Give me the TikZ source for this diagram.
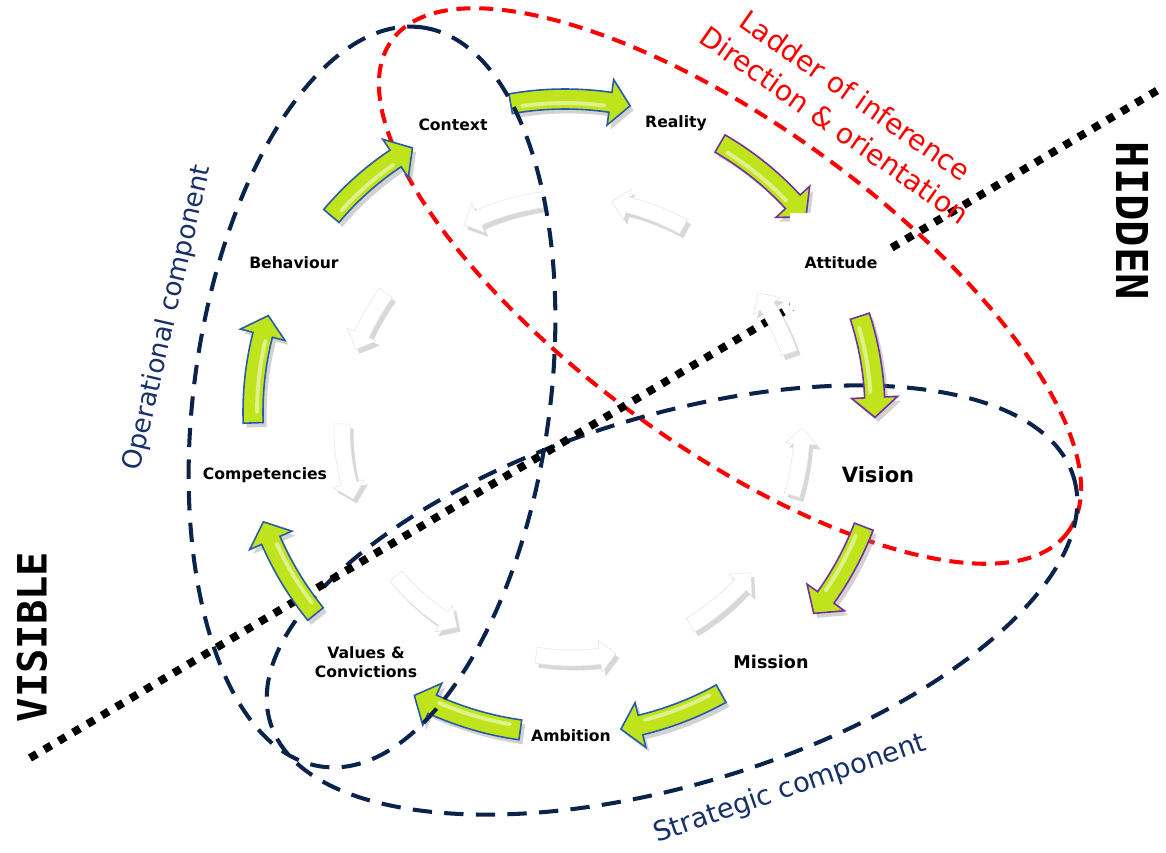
\documentclass[tikz,border=0pt]{standalone}
\usepackage{fontspec}
\setmainfont{DejaVu Sans}
\newfontfamily\monofam{DejaVu Sans Mono}
\usetikzlibrary{shadows}
\definecolor{navy}{RGB}{10,35,75}
\definecolor{navytxt}{RGB}{22,48,105}
\definecolor{lgreen}{RGB}{192,228,28}
\definecolor{oblue}{RGB}{40,90,170}
\definecolor{opurple}{RGB}{112,48,160}

% curved block arrow: style, cx, cy, r, start, end, shaft w, head w, head len (screen angles)
\newcommand\arrowshape[9]{%
  \pgfmathsetmacro\caS{sign((#6)-(#5))}%
  \pgfmathsetmacro\caM{(#6)-\caS*(#9)/(#4)*180/pi}%
  \pgfmathsetmacro\caRo{(#4)+(#7)/2}%
  \pgfmathsetmacro\caRi{(#4)-(#7)/2}%
  \pgfmathsetmacro\caHo{(#4)+(#8)/2}%
  \pgfmathsetmacro\caHi{(#4)-(#8)/2}%
  \path[#1,shift={(#2,#3)}] (#5:\caRo) arc[start angle=#5,end angle=\caM,radius=\caRo]
    -- (\caM:\caHo) -- (#6:#4) -- (\caM:\caHi) -- (\caM:\caRi)
    arc[start angle=\caM,end angle=#5,radius=\caRi] -- cycle;%
}
\newcommand\garrow[4]{%
  \arrowshape{garrowst,draw=#1}{565}{412}{#4}{#2}{#3}{20}{46}{20}%
  \pgfmathsetmacro\caHs{(#2)+\caS*2}%
  \pgfmathsetmacro\caHe{\caM-\caS*1}%
  \pgfmathsetmacro\caHr{(#4)-4}%
  \draw[white,opacity=.5,line width=2.2pt,line cap=round,shift={(565,412)}]
    (\caHs:\caHr) arc[start angle=\caHs,end angle=\caHe,radius=\caHr];%
}
\newcommand\warrow[2]{%
  \arrowshape{warrowst}{572}{428}{230}{#1}{#2}{16}{32}{16}%
}

\begin{document}
\begin{tikzpicture}[x=0.02cm,y=-0.02cm,
  garrowst/.style={fill=lgreen,line width=0.9pt,
    drop shadow={shadow xshift=2pt,shadow yshift=-2.5pt,opacity=0.35}},
  warrowst/.style={fill=white,draw=black!10,line width=0.3pt,
    drop shadow={shadow xshift=2pt,shadow yshift=-2.5pt,opacity=0.3}},
  lbl/.style={font=\fontsize{8.9}{10.8}\selectfont\bfseries,inner sep=1pt},
  dashnavy/.style={draw=navy,line width=2.3pt,dash pattern=on 11pt off 7pt},
  dashred/.style={draw=red,line width=2.3pt,dash pattern=on 8pt off 5pt},
  dotline/.style={draw=black,line width=4.5pt,dash pattern=on 4.5pt off 5pt},
  bigtxt/.style={font=\fontsize{15}{18}\selectfont,inner sep=0pt},
  sidetxt/.style={font=\monofam\bfseries\fontsize{23}{26}\selectfont,inner sep=0pt}]
\useasboundingbox (0,0) rectangle (1166,852);
\fill[white] (0,0) rectangle (1166,852);

% ellipses behind arrows
\draw[dashred,rotate around={-36:(730,286)}] (730,286) ellipse [x radius=418,y radius=160];
\draw[dashnavy,rotate around={17:(672,600)}] (672,600) ellipse [x radius=420,y radius=184];

% visible / hidden divider
\coordinate (vis) at (30,758);
\coordinate (hid) at (1158,90);
\draw[dotline] (vis) -- (hid);

% inner white arrows (counter-clockwise)
\warrow{99}{79}
\warrow{59}{39}
\warrow{17}{0}
\warrow{-19}{-36}
\warrow{-61}{-80}
\warrow{-97}{-118}
\warrow{-144}{-160}
\warrow{-179}{-198}
\warrow{-220}{-240}

% outer green arrows (clockwise)
\garrow{oblue}{-100}{-78}{313}
\garrow{opurple}{-60}{-39}{310}
\garrow{opurple}{-18}{1}{310}
\garrow{opurple}{21}{39}{320}
\garrow{oblue}{61}{80}{322}
\garrow{oblue}{98}{118}{321}
\garrow{oblue}{141}{160}{321}
\garrow{oblue}{178}{198}{312}
\garrow{oblue}{220}{240}{305}

% operational component ellipse (on top of arrows)
\draw[dashnavy,rotate around={82.3:(372,397)}] (372,397) ellipse [x radius=373,y radius=178];

% white patch behind Attitude
\fill[white] (790,213) rectangle (886,310);

% labels
\node[lbl] (context) at (453,125) {Context};
\node[lbl] (reality) at (676,123) {Reality};
\node[lbl] (attitude) at (841,263) {Attitude};
\node[lbl,font=\fontsize{12}{14}\selectfont\bfseries] (vision) at (878,475) {Vision};
\node[lbl,font=\fontsize{10}{12}\selectfont\bfseries] (mission) at (771,662) {Mission};
\node[lbl] (ambition) at (571,736) {Ambition};
\node[lbl,align=center] (values) at (366,662) {Values \&\\Convictions};
\node[lbl] (competencies) at (265,475) {Competencies};
\node[lbl] (behaviour) at (294,263) {Behaviour};

\node[bigtxt,red,rotate=-35,align=center,font=\fontsize{16}{20.5}\selectfont] (ladder) at (845,110) {Ladder of inference\\Direction \& orientation};
\node[bigtxt,navytxt,rotate=77] (oper) at (168,318) {Operational component};
\node[bigtxt,navytxt,rotate=19,font=\fontsize{15.5}{18}\selectfont] (strat) at (790,789) {Strategic component};

\node[sidetxt,rotate=90] (visible) at (32,637) {VISIBLE};
\node[sidetxt,rotate=-90,font=\monofam\bfseries\fontsize{25}{28}\selectfont] (hidden) at (1132,221) {HIDDEN};
\end{tikzpicture}
\end{document}
